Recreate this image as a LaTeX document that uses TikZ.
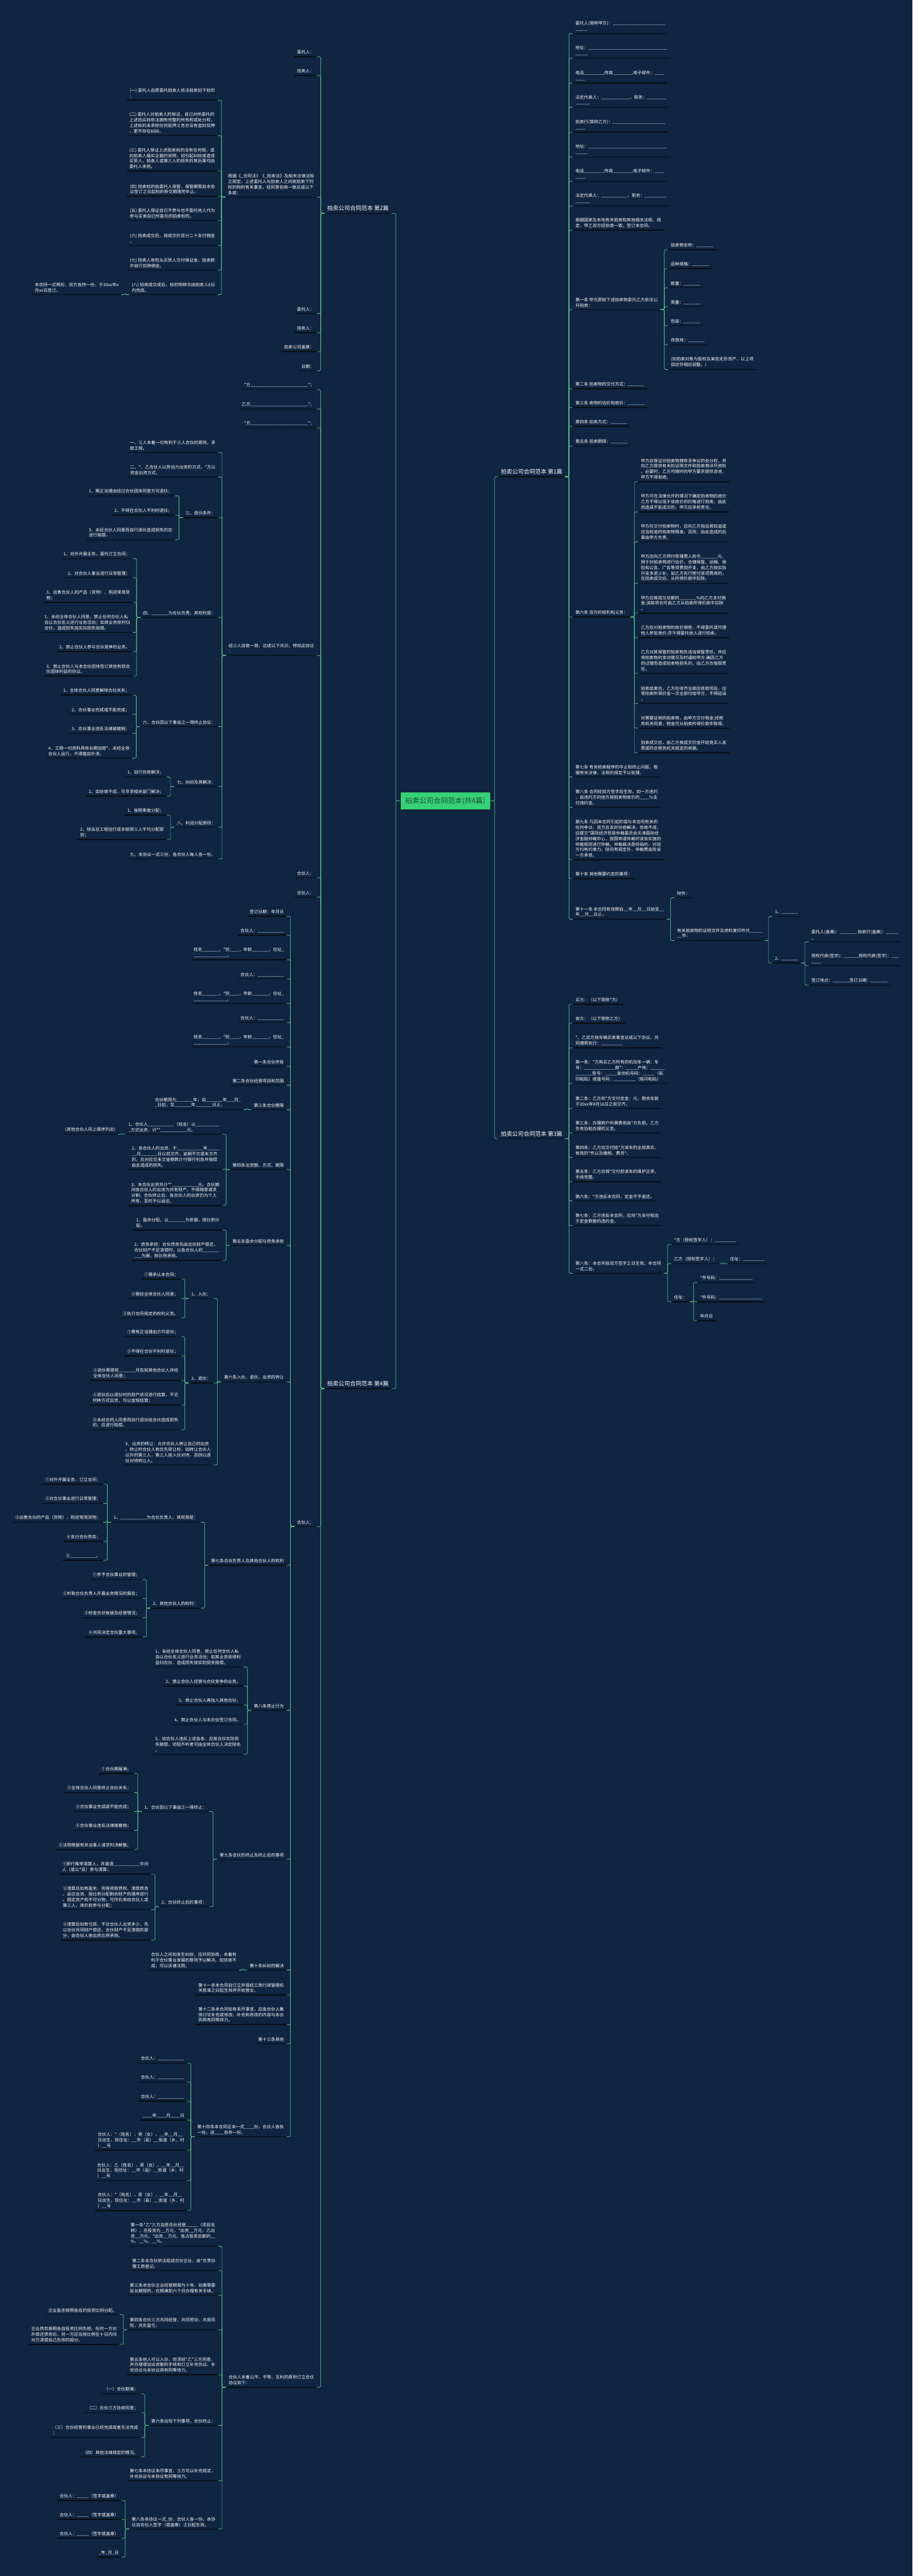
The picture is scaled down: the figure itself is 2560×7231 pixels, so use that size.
\documentclass[tikz,border=0pt]{standalone}
\usepackage{fontspec}
\setmainfont{Noto Sans CJK SC}

\definecolor{bgnavy}{HTML}{0F2540}
\definecolor{linkgreen}{HTML}{5CC495}
\definecolor{ulinedark}{HTML}{070D13}
\definecolor{rootgreen}{HTML}{35D078}
\definecolor{rootedge}{HTML}{1B2B22}
\definecolor{roottext}{HTML}{1C4A2C}

% a blank of #1 underscores
\newcommand\bk[1]{\foreach\bkn in {1,...,#1}{\_}}

\tikzset{
  leaf/.style={text=white, font=\fontsize{6}{7.8}\selectfont, align=left,
    inner xsep=3.5pt, inner ysep=3pt,
    append after command={(\tikzlastnode.south west) edge[uline] (\tikzlastnode.south east)}},
  leftleaf/.style={leaf, anchor=south east},
  rightleaf/.style={leaf, anchor=south west},
  chapter/.style={leaf, font=\fontsize{8}{10}\selectfont},
  rootbox/.style={fill=rootgreen, draw=rootedge, line width=0.6pt, text=roottext,
    font=\fontsize{10}{12}\selectfont, minimum width=126pt, minimum height=24pt, inner sep=0pt},
  link/.style={draw=linkgreen, line width=0.6pt, rounded corners=1.5pt},
  uline/.style={draw=ulinedark, line width=1.2pt}
}

\begin{document}
\begin{tikzpicture}[x=0.5pt,y=-0.5pt]
	\useasboundingbox (0,0) rectangle (2560,7231);
	\fill[bgnavy] (0,0) rectangle (2560,7231);

	% centre
	\node[rootbox] (root) at (1249,2248) {拍卖公司合同范本(共4篇)};

	% the four chapters
	\node[chapter, anchor=south east] (B) at (1098,599) {拍卖公司合同范本 第2篇};
	\node[chapter, anchor=south east] (D) at (1098,3898) {拍卖公司合同范本 第4篇};
	\node[chapter, anchor=south west] (A) at (1398,1338) {拍卖公司合同范本 第1篇};
	\node[chapter, anchor=south west] (C) at (1398,3196) {拍卖公司合同范本 第3篇};
	\foreach \c in {B,D} \draw[link] (root.west) -- ++(-12,0) |- (\c.south east);
	\foreach \c in {A,C} \draw[link] (root.east) -- ++(12,0) |- (\c.south west);

	% ---------------- chapter 2 (left, top)
	\coordinate (B-t) at ([xshift=-11pt]B.south west);
	\node[leftleaf] (B-1) at (B-t |- 0,159) {委托人：};
	\node[leftleaf] (B-2) at (B-t |- 0,212) {拍卖人：};
	\node[leftleaf] (B-3) at (B-t |- 0,553) {根据《\_合同法》《\_拍卖法》及相关法律法规\\之规定，上述委托人与拍卖人之间就拍卖下列\\标的物的有关事宜，经同意协商一致达成以下\\条款：};
	\node[leftleaf] (B-4) at (B-t |- 0,880) {委托人：};
	\node[leftleaf] (B-5) at (B-t |- 0,934) {拍卖人：};
	\node[leftleaf] (B-6) at (B-t |- 0,987) {拍卖公司盖章：};
	\node[leftleaf] (B-7) at (B-t |- 0,1041) {日期：};
	\foreach \i in {1,...,7} \draw[link] (B.south west) -- ++(-11,0) |- (B-\i.south east);

	\coordinate (B-3-t) at ([xshift=-11pt]B-3.south west);
	\node[leftleaf] (B-3-1) at (B-3-t |- 0,281) {(一) 委托人自愿委托拍卖人依法拍卖如下标的\\：};
	\node[leftleaf] (B-3-2) at (B-3-t |- 0,381) {(二) 委托人对拍卖人的保证，自己对所委托的\\上述拍买标依法拥有完整的所有权或处分权，\\上述标的未承担任何抵押义务亦没有查封扣押\\，更不存在纠纷。};
	\node[leftleaf] (B-3-3) at (B-3-t |- 0,480) {(三) 委托人保证上述拍卖标的没有任何瑕，或\\向拍卖人据实全面的说明，如引起纠纷或造成\\买受人，拍卖人或第三人的损失的其后果均由\\委托人承担。};
	\node[leftleaf] (B-3-4) at (B-3-t |- 0,551) {(四) 拍卖标的由委托人保管，保管期限自本协\\议签订之日起标的移交期限完毕止。};
	\node[leftleaf] (B-3-5) at (B-3-t |- 0,619) {(五) 委托人保证自已不参与也不委托他人代为\\参与买卖自已所委托的拍卖标的。};
	\node[leftleaf] (B-3-6) at (B-3-t |- 0,689) {(六) 拍卖成交后，按成交价百分二十支付佣金\\。};
	\node[leftleaf] (B-3-7) at (B-3-t |- 0,758) {(七) 拍卖人有权从买受人交付保证金，拍卖款\\中自行扣除佣金。};
	\node[leftleaf] (B-3-8) at (B-3-t |- 0,827) {(八) 拍卖成交成后，标的物移交由拍卖人6日\\内完成。};
	\foreach \i in {1,...,8} \draw[link] (B-3.south west) -- ++(-11,0) |- (B-3-\i.south east);
	\coordinate (B-3-8-t) at ([xshift=-11pt]B-3-8.south west);
	\node[leftleaf] (B-3-8-1) at (B-3-8-t |- 0,827) {本合同一式两份，双方各持一份，于20xx年x\\月xx日签订。};
	\draw[link] (B-3-8.south west) -- ++(-11,0) |- (B-3-8-1.south east);

	% ---------------- chapter 4 (left, bottom)
	\coordinate (D-t) at ([xshift=-11pt]D.south west);
	\node[leftleaf] (D-1) at (D-t |- 0,1094) {*方\bk{24}*；};
	\node[leftleaf] (D-2) at (D-t |- 0,1148) {乙方\bk{24}*；};
	\node[leftleaf] (D-3) at (D-t |- 0,1201) {*方\bk{24}*；};
	\node[leftleaf] (D-4) at (D-t |- 0,1840) {经三人协商一致，达成以下共识，特拟此协议\\：};
	\node[leftleaf] (D-5) at (D-t |- 0,2464) {合伙人：};
	\node[leftleaf] (D-6) at (D-t |- 0,2518) {合伙人：};
	\node[leftleaf] (D-7) at (D-t |- 0,4285) {合伙人：};
	\node[leftleaf] (D-8) at (D-t |- 0,6701) {合伙人本着公平、平等、互利的原则订立合伙\\协议如下：};
	\foreach \i in {1,...,8} \draw[link] (D.south west) -- ++(-11,0) |- (D-\i.south east);

	% first agreement
	\coordinate (D-4-t) at ([xshift=-11pt]D-4.south west);
	\node[leftleaf] (D-4-1) at (D-4-t |- 0,1270) {一、三人本着一切有利于三人合伙的原则，承\\接工程。};
	\node[leftleaf] (D-4-2) at (D-4-t |- 0,1339) {二、*、乙合伙人以劳动力出资的方式，*方以\\资金出资方式。};
	\node[leftleaf] (D-4-3) at (D-4-t |- 0,1453) {三、退伙条件：};
	\node[leftleaf] (D-4-4) at (D-4-t |- 0,1733) {四、\bk{7}为合伙负责。其权利是：};
	\node[leftleaf] (D-4-5) at (D-4-t |- 0,2040) {六、合伙因以下事由之一得终止协议：};
	\node[leftleaf] (D-4-6) at (D-4-t |- 0,2208) {七、纠纷及其解决：};
	\node[leftleaf] (D-4-7) at (D-4-t |- 0,2322) {八、利润分配原则：};
	\node[leftleaf] (D-4-8) at (D-4-t |- 0,2411) {九、本协议一式三份，各合伙人每人各一份。};
	\foreach \i in {1,...,8} \draw[link] (D-4.south west) -- ++(-11,0) |- (D-4-\i.south east);

	\coordinate (D-4-3-t) at ([xshift=-11pt]D-4-3.south west);
	\node[leftleaf] (D-4-3-1) at (D-4-3-t |- 0,1392) {1、需正当理由经过合伙团体同意方可退伙；};
	\node[leftleaf] (D-4-3-2) at (D-4-3-t |- 0,1446) {2、不得在合伙人不利时退伙；};
	\node[leftleaf] (D-4-3-3) at (D-4-3-t |- 0,1515) {3、未经合伙人同意而自行退伙造成损失的应\\进行赔偿。};
	\foreach \i in {1,...,3} \draw[link] (D-4-3.south west) -- ++(-11,0) |- (D-4-3-\i.south east);

	\coordinate (D-4-4-t) at ([xshift=-11pt]D-4-4.south west);
	\node[leftleaf] (D-4-4-1) at (D-4-4-t |- 0,1568) {1、对外开展业务，委托订立合同；};
	\node[leftleaf] (D-4-4-2) at (D-4-4-t |- 0,1622) {2、对合伙人事业进行日常管理；};
	\node[leftleaf] (D-4-4-3) at (D-4-4-t |- 0,1691) {3、出售合伙人的产品（货物）、购进常用货\\物；};
	\node[leftleaf] (D-4-4-4) at (D-4-4-t |- 0,1775) {1、未经全体合伙人同意，禁止任何合伙人私\\自以合伙名义进行业务活动；如其业务获利归\\合伙，造成损失按实际损失赔偿。};
	\node[leftleaf] (D-4-4-5) at (D-4-4-t |- 0,1829) {2、禁止合伙人参与合伙竞争的业务。};
	\node[leftleaf] (D-4-4-6) at (D-4-4-t |- 0,1898) {3、禁止合伙人与本合伙团体签订其他有损合\\伙团体利益的协议。};
	\foreach \i in {1,...,6} \draw[link] (D-4-4.south west) -- ++(-11,0) |- (D-4-4-\i.south east);

	\coordinate (D-4-5-t) at ([xshift=-11pt]D-4-5.south west);
	\node[leftleaf] (D-4-5-1) at (D-4-5-t |- 0,1951) {1、全体合伙人同意解除合伙关系；};
	\node[leftleaf] (D-4-5-2) at (D-4-5-t |- 0,2005) {2、合伙事业完成或不能完成；};
	\node[leftleaf] (D-4-5-3) at (D-4-5-t |- 0,2059) {3、合伙事业违反法律被撤销；};
	\node[leftleaf] (D-4-5-4) at (D-4-5-t |- 0,2128) {4、工程一切资料具有长期加密*，未经全体\\合伙人运行，不得擅自外泄。};
	\foreach \i in {1,...,4} \draw[link] (D-4-5.south west) -- ++(-11,0) |- (D-4-5-\i.south east);

	\coordinate (D-4-6-t) at ([xshift=-11pt]D-4-6.south west);
	\node[leftleaf] (D-4-6-1) at (D-4-6-t |- 0,2181) {1、自行协商解决；};
	\node[leftleaf] (D-4-6-2) at (D-4-6-t |- 0,2235) {2、如协商不成，可寻求相关部门解决；};
	\foreach \i in {1,2} \draw[link] (D-4-6.south west) -- ++(-11,0) |- (D-4-6-\i.south east);

	\coordinate (D-4-7-t) at ([xshift=-11pt]D-4-7.south west);
	\node[leftleaf] (D-4-7-1) at (D-4-7-t |- 0,2288) {1、按照季度分配；};
	\node[leftleaf] (D-4-7-2) at (D-4-7-t |- 0,2357) {2、除去总工程运行成本按照三人平均分配原\\则；};
	\foreach \i in {1,2} \draw[link] (D-4-7.south west) -- ++(-11,0) |- (D-4-7-\i.south east);

	% second agreement
	\coordinate (D-7-t) at ([xshift=-11pt]D-7.south west);
	\node[leftleaf] (D-7-1) at (D-7-t |- 0,2572) {签订日期：年月日};
	\node[leftleaf] (D-7-2) at (D-7-t |- 0,2625) {合伙人：\bk{11}};
	\node[leftleaf] (D-7-3) at (D-7-t |- 0,2694) {姓名\bk{7}，*别\bk{4}，年龄\bk{7}，住址\_\\\bk{14}。};
	\node[leftleaf] (D-7-4) at (D-7-t |- 0,2748) {合伙人：\bk{11}};
	\node[leftleaf] (D-7-5) at (D-7-t |- 0,2817) {姓名\bk{7}，*别\bk{4}，年龄\bk{7}，住址\_\\\bk{14}。};
	\node[leftleaf] (D-7-6) at (D-7-t |- 0,2870) {合伙人：\bk{11}};
	\node[leftleaf] (D-7-7) at (D-7-t |- 0,2939) {姓名\bk{7}，*别\bk{4}，年龄\bk{7}，住址\_\\\bk{14}。};
	\node[leftleaf] (D-7-8) at (D-7-t |- 0,2993) {第一条合伙宗旨};
	\node[leftleaf] (D-7-9) at (D-7-t |- 0,3046) {第二条合伙经营项目和范围};
	\node[leftleaf] (D-7-10) at (D-7-t |- 0,3115) {第三条合伙期限};
	\node[leftleaf] (D-7-11) at (D-7-t |- 0,3283) {第四条出资额、方式、期限};
	\node[leftleaf] (D-7-12) at (D-7-t |- 0,3496) {第五条盈余分配与债务承担};
	\node[leftleaf] (D-7-13) at (D-7-t |- 0,3879) {第六条入伙、退伙，出资的转让};
	\node[leftleaf] (D-7-14) at (D-7-t |- 0,4394) {第七条合伙负责人及其他合伙人的权利};
	\node[leftleaf] (D-7-15) at (D-7-t |- 0,4801) {第八条禁止行为};
	\node[leftleaf] (D-7-16) at (D-7-t |- 0,5219) {第九条合伙的终止及终止后的事项};
	\node[leftleaf] (D-7-17) at (D-7-t |- 0,5530) {第十条纠纷的解决};
	\node[leftleaf] (D-7-18) at (D-7-t |- 0,5600) {第十一条本合同自订立并报经工商行政管理机\\关批准之日起生效并开始营业。};
	\node[leftleaf] (D-7-19) at (D-7-t |- 0,5683) {第十二条本合同如有未尽事宜，应由合伙人集\\体讨论补充或修改。补充和修改的内容与本合\\同具有同等效力。};
	\node[leftleaf] (D-7-20) at (D-7-t |- 0,5737) {第十三条其他};
	\node[leftleaf] (D-7-21) at (D-7-t |- 0,5998) {第十四条本合同正本一式\bk{4}份，合伙人各执\\一份，送\bk{4}各存一份。};
	\foreach \i in {1,...,21} \draw[link] (D-7.south west) -- ++(-11,0) |- (D-7-\i.south east);

	\coordinate (D-7-10-t) at ([xshift=-11pt]D-7-10.south west);
	\node[leftleaf] (D-7-10-1) at (D-7-10-t |- 0,3115) {合伙期限为\bk{7}年，自\bk{7}年\bk{3}月\_\\\_日起，至\bk{7}年\bk{7}日止。};
	\draw[link] (D-7-10.south west) -- ++(-11,0) |- (D-7-10-1.south east);

	\coordinate (D-7-11-t) at ([xshift=-11pt]D-7-11.south west);
	\node[leftleaf] (D-7-11-1) at (D-7-11-t |- 0,3184) {1、合伙人\bk{11}（姓名）以\bk{10}\\\_方式出资，计**\bk{11}元。};
	\node[leftleaf] (D-7-11-2) at (D-7-11-t |- 0,3283) {2、各合伙人的出资，于\bk{11}年\bk{5}\\\_\_月\bk{7}日以前交齐，逾期不交或未交齐\\的，应对应交未交金额数计付银行利息并赔偿\\由此造成的损失。};
	\node[leftleaf] (D-7-11-3) at (D-7-11-t |- 0,3384) {3、本合伙出资共计**\bk{11}元。合伙期\\间各合伙人的出资为共有财产，不得随意请求\\分割，合伙终止后，各合伙人的出资仍为个人\\所有，至时予以返还。};
	\foreach \i in {1,...,3} \draw[link] (D-7-11.south west) -- ++(-11,0) |- (D-7-11-\i.south east);
	\coordinate (D-7-11-1-t) at ([xshift=-11pt]D-7-11-1.south west);
	\node[leftleaf] (D-7-11-1-1) at (D-7-11-1-t |- 0,3184) {(其他合伙人同上顺序列出)};
	\draw[link] (D-7-11-1.south west) -- ++(-11,0) |- (D-7-11-1-1.south east);

	\coordinate (D-7-12-t) at ([xshift=-11pt]D-7-12.south west);
	\node[leftleaf] (D-7-12-1) at (D-7-12-t |- 0,3453) {1、盈余分配，以\bk{7}为依据，按比例分\\配。};
	\node[leftleaf] (D-7-12-2) at (D-7-12-t |- 0,3538) {2、债务承担：合伙债务先由合伙财产偿还，\\合伙财产不足清偿时，以各合伙人的\bk{7}\\\bk{3}为据，按比例承担。};
	\foreach \i in {1,2} \draw[link] (D-7-12.south west) -- ++(-11,0) |- (D-7-12-\i.south east);

	\coordinate (D-7-13-t) at ([xshift=-11pt]D-7-13.south west);
	\node[leftleaf] (D-7-13-1) at (D-7-13-t |- 0,3645) {1、入伙：};
	\node[leftleaf] (D-7-13-2) at (D-7-13-t |- 0,3882) {2、退伙：};
	\node[leftleaf] (D-7-13-3) at (D-7-13-t |- 0,4112) {3、出资的转让：允许合伙人转让自己的出资\\。转让时合伙人有优先受让权，如转让合伙人\\以外的第三人，第三人按入伙对待，否则以退\\伙对待转让人。};
	\foreach \i in {1,...,3} \draw[link] (D-7-13.south west) -- ++(-11,0) |- (D-7-13-\i.south east);

	\coordinate (D-7-13-1-t) at ([xshift=-11pt]D-7-13-1.south west);
	\node[leftleaf] (D-7-13-1-1) at (D-7-13-1-t |- 0,3591) {①需承认本合同；};
	\node[leftleaf] (D-7-13-1-2) at (D-7-13-1-t |- 0,3645) {②需经全体合伙人同意；};
	\node[leftleaf] (D-7-13-1-3) at (D-7-13-1-t |- 0,3699) {③执行合同规定的权利义务。};
	\foreach \i in {1,...,3} \draw[link] (D-7-13-1.south west) -- ++(-11,0) |- (D-7-13-1-\i.south east);

	\coordinate (D-7-13-2-t) at ([xshift=-11pt]D-7-13-2.south west);
	\node[leftleaf] (D-7-13-2-1) at (D-7-13-2-t |- 0,3752) {①需有正当理由方可退伙；};
	\node[leftleaf] (D-7-13-2-2) at (D-7-13-2-t |- 0,3806) {②不得在合伙不利时退伙；};
	\node[leftleaf] (D-7-13-2-3) at (D-7-13-2-t |- 0,3875) {③退伙需提前\bk{7}月告知其他合伙人并经\\全体合伙人同意；};
	\node[leftleaf] (D-7-13-2-4) at (D-7-13-2-t |- 0,3944) {④退伙后以退伙时的财产状况进行结算，不论\\何种方式出资，均以金钱结算；};
	\node[leftleaf] (D-7-13-2-5) at (D-7-13-2-t |- 0,4013) {⑤未经合同人同意而自行退伙给合伙造成损失\\的，应进行赔偿。};
	\foreach \i in {1,...,5} \draw[link] (D-7-13-2.south west) -- ++(-11,0) |- (D-7-13-2-\i.south east);

	\coordinate (D-7-14-t) at ([xshift=-11pt]D-7-14.south west);
	\node[leftleaf] (D-7-14-1) at (D-7-14-t |- 0,4273) {1、\bk{11}为合伙负责人。其权限是：};
	\node[leftleaf] (D-7-14-2) at (D-7-14-t |- 0,4514) {2、其他合伙人的权利：};
	\foreach \i in {1,2} \draw[link] (D-7-14.south west) -- ++(-11,0) |- (D-7-14-\i.south east);

	\coordinate (D-7-14-1-t) at ([xshift=-11pt]D-7-14-1.south west);
	\node[leftleaf] (D-7-14-1-1) at (D-7-14-1-t |- 0,4166) {①对外开展业务，订立合同；};
	\node[leftleaf] (D-7-14-1-2) at (D-7-14-1-t |- 0,4220) {②对合伙事业进行日常管理；};
	\node[leftleaf] (D-7-14-1-3) at (D-7-14-1-t |- 0,4273) {③出售合伙的产品（货物），购进常用货物；};
	\node[leftleaf] (D-7-14-1-4) at (D-7-14-1-t |- 0,4327) {④支付合伙债务；};
	\node[leftleaf] (D-7-14-1-5) at (D-7-14-1-t |- 0,4380) {⑤\bk{11}。};
	\foreach \i in {1,...,5} \draw[link] (D-7-14-1.south west) -- ++(-11,0) |- (D-7-14-1-\i.south east);

	\coordinate (D-7-14-2-t) at ([xshift=-11pt]D-7-14-2.south west);
	\node[leftleaf] (D-7-14-2-1) at (D-7-14-2-t |- 0,4434) {①参予合伙事业的管理；};
	\node[leftleaf] (D-7-14-2-2) at (D-7-14-2-t |- 0,4487) {②听取合伙负责人开展业务情况的报告；};
	\node[leftleaf] (D-7-14-2-3) at (D-7-14-2-t |- 0,4541) {③检查合伙帐册及经营情况；};
	\node[leftleaf] (D-7-14-2-4) at (D-7-14-2-t |- 0,4595) {④共同决定合伙重大事项。};
	\foreach \i in {1,...,4} \draw[link] (D-7-14-2.south west) -- ++(-11,0) |- (D-7-14-2-\i.south east);

	\coordinate (D-7-15-t) at ([xshift=-11pt]D-7-15.south west);
	\node[leftleaf] (D-7-15-1) at (D-7-15-t |- 0,4679) {1、未经全体合伙人同意，禁止任何合伙人私\\自以合伙名义进行业务活动；如其业务获得利\\益归合伙，造成损失按实际损失赔偿。};
	\node[leftleaf] (D-7-15-2) at (D-7-15-t |- 0,4733) {2、禁止合伙人经营与合伙竞争的业务。};
	\node[leftleaf] (D-7-15-3) at (D-7-15-t |- 0,4786) {3、禁止合伙人再加入其他合伙。};
	\node[leftleaf] (D-7-15-4) at (D-7-15-t |- 0,4840) {4、禁止合伙人与本合伙签订合同。};
	\node[leftleaf] (D-7-15-5) at (D-7-15-t |- 0,4924) {5、如合伙人违反上述各条，应按合伙实际损\\失赔偿。劝阻不听者可由全体合伙人决定除名\\。};
	\foreach \i in {1,...,5} \draw[link] (D-7-15.south west) -- ++(-11,0) |- (D-7-15-\i.south east);

	\coordinate (D-7-16-t) at ([xshift=-11pt]D-7-16.south west);
	\node[leftleaf] (D-7-16-1) at (D-7-16-t |- 0,5085) {1、合伙因以下事由之一得终止：};
	\node[leftleaf] (D-7-16-2) at (D-7-16-t |- 0,5352) {2、合伙终止后的事项：};
	\foreach \i in {1,2} \draw[link] (D-7-16.south west) -- ++(-11,0) |- (D-7-16-\i.south east);

	\coordinate (D-7-16-1-t) at ([xshift=-11pt]D-7-16-1.south west);
	\node[leftleaf] (D-7-16-1-1) at (D-7-16-1-t |- 0,4978) {①合伙期届满；};
	\node[leftleaf] (D-7-16-1-2) at (D-7-16-1-t |- 0,5032) {②全体合伙人同意终止合伙关系；};
	\node[leftleaf] (D-7-16-1-3) at (D-7-16-1-t |- 0,5085) {③合伙事业完成或不能完成；};
	\node[leftleaf] (D-7-16-1-4) at (D-7-16-1-t |- 0,5138) {④合伙事业违反法律被撤销；};
	\node[leftleaf] (D-7-16-1-5) at (D-7-16-1-t |- 0,5192) {⑤法院根据有关当事人请求判决解散。};
	\foreach \i in {1,...,5} \draw[link] (D-7-16-1.south west) -- ++(-11,0) |- (D-7-16-1-\i.south east);

	\coordinate (D-7-16-2-t) at ([xshift=-11pt]D-7-16-2.south west);
	\node[leftleaf] (D-7-16-2-1) at (D-7-16-2-t |- 0,5261) {①即行推举清算人，并邀请\bk{11}中间\\人（或公*员）参与清算；};
	\node[leftleaf] (D-7-16-2-2) at (D-7-16-2-t |- 0,5361) {②清算后如有盈余，则按收取债权、清偿债务\\、返还出资、按比例分配剩余财产的顺序进行\\。固定资产和不可分物，可作价卖给合伙人或\\第三人，其价款参与分配；};
	\node[leftleaf] (D-7-16-2-3) at (D-7-16-2-t |- 0,5446) {③清算后如有亏损，不论合伙人出资多少，先\\以合伙共同财产偿还，合伙财产不足清偿的部\\分，由合伙人按出资比例承担。};
	\foreach \i in {1,...,3} \draw[link] (D-7-16-2.south west) -- ++(-11,0) |- (D-7-16-2-\i.south east);

	\coordinate (D-7-17-t) at ([xshift=-11pt]D-7-17.south west);
	\node[leftleaf] (D-7-17-1) at (D-7-17-t |- 0,5530) {合伙人之间如发生纠纷，应共同协商，本着有\\利于合伙事业发展的原则予以解决。如协商不\\成，可以诉诸法院。};
	\draw[link] (D-7-17.south west) -- ++(-11,0) |- (D-7-17-1.south east);

	\coordinate (D-7-21-t) at ([xshift=-11pt]D-7-21.south west);
	\node[leftleaf] (D-7-21-1) at (D-7-21-t |- 0,5791) {合伙人：\bk{11}};
	\node[leftleaf] (D-7-21-2) at (D-7-21-t |- 0,5844) {合伙人：\bk{11}};
	\node[leftleaf] (D-7-21-3) at (D-7-21-t |- 0,5898) {合伙人：\bk{11}};
	\node[leftleaf] (D-7-21-4) at (D-7-21-t |- 0,5951) {\bk{4}年\bk{4}月\bk{4}日};
	\node[leftleaf] (D-7-21-5) at (D-7-21-t |- 0,6036) {合伙人：*（姓名），男（女），\_\_年\_\_月\_\_\\日出生，现住址：\_\_市（县）\_\_街道（乡、村\\）\_\_号};
	\node[leftleaf] (D-7-21-6) at (D-7-21-t |- 0,6121) {合伙人：乙（姓名），男（女），\_\_年\_\_月\_\_\\日出生，现住址：\_\_市（县）\_\_街道（乡、村\\）\_\_号};
	\node[leftleaf] (D-7-21-7) at (D-7-21-t |- 0,6205) {合伙人：*（姓名），男（女），\_\_年\_\_月\_\_\\日出生，现住址：\_\_市（县）\_\_街道（乡、村\\）\_\_号};
	\foreach \i in {1,...,7} \draw[link] (D-7-21.south west) -- ++(-11,0) |- (D-7-21-\i.south east);

	% third agreement
	\coordinate (D-8-t) at ([xshift=-11pt]D-8.south west);
	\node[leftleaf] (D-8-1) at (D-8-t |- 0,6305) {第一条*乙*三方自愿合伙经营\bk{5}（项目名\\称），总投资为\_\_万元，*出资\_\_万元，乙出\\资\_\_万元，*出资\_\_万元，各占投资总额的\_\_\\\%、\_\_\%、\_\_\%。};
	\node[leftleaf] (D-8-2) at (D-8-t |- 0,6374) {第二条本合伙依法组成合伙企业，由*负责办\\理工商登记。};
	\node[leftleaf] (D-8-3) at (D-8-t |- 0,6443) {第三条本合伙企业经营期限为十年。如果需要\\延长期限的，在期满前六个月办理有关手续。};
	\node[leftleaf] (D-8-4) at (D-8-t |- 0,6540) {第四条合伙三方共同经营、共同劳动，共担风\\险，共负盈亏。};
	\node[leftleaf] (D-8-5) at (D-8-t |- 0,6666) {第五条他人可以入伙，但须经*乙*三方同意，\\并办理增加出资额的手续和订立补充协议。补\\充协议与本协议具有同等效力。};
	\node[leftleaf] (D-8-6) at (D-8-t |- 0,6808) {第六条出现下列事项，合伙终止：};
	\node[leftleaf] (D-8-7) at (D-8-t |- 0,6964) {第七条本协议未尽事宜，三方可以补充规定，\\补充协议与本协议有同等效力。};
	\node[leftleaf] (D-8-8) at (D-8-t |- 0,7099) {第八条本协议一式\_份，合伙人各一份。本协\\议自合伙人签字（或盖章）之日起生效。};
	\foreach \i in {1,...,8} \draw[link] (D-8.south west) -- ++(-11,0) |- (D-8-\i.south east);

	\coordinate (D-8-4-t) at ([xshift=-11pt]D-8-4.south west);
	\node[leftleaf] (D-8-4-1) at (D-8-4-t |- 0,6497) {企业盈余按照各自的投资比例分配。};
	\node[leftleaf] (D-8-4-2) at (D-8-4-t |- 0,6581) {企业债务按照各自投资比例负担。任何一方对\\外偿还债务后，另一方应当按比例在十日内向\\对方清偿自己负担的部分。};
	\foreach \i in {1,2} \draw[link] (D-8-4.south west) -- ++(-11,0) |- (D-8-4-\i.south east);

	\coordinate (D-8-6-t) at ([xshift=-11pt]D-8-6.south west);
	\node[leftleaf] (D-8-6-1) at (D-8-6-t |- 0,6720) {（一）合伙期满；};
	\node[leftleaf] (D-8-6-2) at (D-8-6-t |- 0,6773) {（二）合伙三方协商同意；};
	\node[leftleaf] (D-8-6-3) at (D-8-6-t |- 0,6842) {（三）合伙经营的事业已经完成或者无法完成\\；};
	\node[leftleaf] (D-8-6-4) at (D-8-6-t |- 0,6896) {（四）其他法律规定的情况。};
	\foreach \i in {1,...,4} \draw[link] (D-8-6.south west) -- ++(-11,0) |- (D-8-6-\i.south east);

	\coordinate (D-8-8-t) at ([xshift=-11pt]D-8-8.south west);
	\node[leftleaf] (D-8-8-1) at (D-8-8-t |- 0,7019) {合伙人：\bk{5}（签字或盖章）};
	\node[leftleaf] (D-8-8-2) at (D-8-8-t |- 0,7072) {合伙人：\bk{5}（签字或盖章）};
	\node[leftleaf] (D-8-8-3) at (D-8-8-t |- 0,7125) {合伙人：\bk{5}（签字或盖章）};
	\node[leftleaf] (D-8-8-4) at (D-8-8-t |- 0,7178) {\_年\_月\_日};
	\foreach \i in {1,...,4} \draw[link] (D-8-8.south west) -- ++(-11,0) |- (D-8-8-\i.south east);

	% ---------------- chapter 1 (right, top)
	\coordinate (A-t) at ([xshift=11pt]A.south east);
	\node[rightleaf] (A-1) at (A-t |- 0,94) {委托人(简称甲方)：\bk{22}\\\bk{5}};
	\node[rightleaf] (A-2) at (A-t |- 0,163) {地址：\bk{33}\\\bk{5}};
	\node[rightleaf] (A-3) at (A-t |- 0,233) {电话\bk{8};传真\bk{8};电子邮件：\bk{4}\\\bk{4}};
	\node[rightleaf] (A-4) at (A-t |- 0,301) {法定代表人：\bk{12}，职务：\bk{8}\\\bk{6}};
	\node[rightleaf] (A-5) at (A-t |- 0,371) {拍卖行(简称乙方)：\bk{22}\\\bk{4}};
	\node[rightleaf] (A-6) at (A-t |- 0,440) {地址：\bk{33}\\\bk{5}};
	\node[rightleaf] (A-7) at (A-t |- 0,509) {电话\bk{8};传真\bk{8};电子邮件：\bk{4}\\\bk{4}};
	\node[rightleaf] (A-8) at (A-t |- 0,578) {法定代表人：\bk{11}，职务：\bk{9}\\\bk{6}};
	\node[rightleaf] (A-9) at (A-t |- 0,646) {根据国家及本地有关拍卖和其他相关法规、规\\定，甲乙双方经协商一致，签订本合同。};
	\node[rightleaf] (A-10) at (A-t |- 0,869) {第一条 甲方愿就下述拍卖物委托乙方依法公\\开拍卖：};
	\node[rightleaf] (A-11) at (A-t |- 0,1091) {第二条 拍卖物的交付方式：\bk{7}};
	\node[rightleaf] (A-12) at (A-t |- 0,1144) {第三条 卖物的估价和底价：\bk{7}};
	\node[rightleaf] (A-13) at (A-t |- 0,1197) {第四条 拍卖方式：\bk{7}};
	\node[rightleaf] (A-14) at (A-t |- 0,1252) {第五条 拍卖期限：\bk{7}};
	\node[rightleaf] (A-15) at (A-t |- 0,1732) {第六条 双方的权利和义务：};
	\node[rightleaf] (A-16) at (A-t |- 0,2181) {第七条 有关拍卖程序的中止和终止问题，根\\据有关法律、法规的规定予以处理。};
	\node[rightleaf] (A-17) at (A-t |- 0,2266) {第八条 合同经双方签字后生效。如一方违约\\，由违约方向他方按拍卖物底价的\bk{4}\%支\\付违约金。};
	\node[rightleaf] (A-18) at (A-t |- 0,2413) {第九条 凡因本合同引起的或与本合同有关的\\任何争议，双方应友好协商解决。协商不成，\\应提交*国际经济贸易仲裁委员会天津国际经\\济金融仲裁中心，按照申请仲裁时该会实施的\\仲裁规则进行仲裁。仲裁裁决是终局的，对双\\方均有约束力。除另有规定外，仲裁费由败诉\\一方承担。};
	\node[rightleaf] (A-19) at (A-t |- 0,2466) {第十条 其他需要约定的事项：};
	\node[rightleaf] (A-20) at (A-t |- 0,2580) {第十一条 本合同有效期自\_\_年\_\_月\_\_日始至\_\_\\年\_\_月\_\_日止。};
	\foreach \i in {1,...,20} \draw[link] (A.south east) -- ++(11,0) |- (A-\i.south west);

	\coordinate (A-10-t) at ([xshift=11pt]A-10.south east);
	\node[rightleaf] (A-10-1) at (A-10-t |- 0,701) {拍卖物名称：\bk{7}};
	\node[rightleaf] (A-10-2) at (A-10-t |- 0,754) {品种规格：\bk{7}};
	\node[rightleaf] (A-10-3) at (A-10-t |- 0,808) {数量：\bk{7}};
	\node[rightleaf] (A-10-4) at (A-10-t |- 0,861) {质量：\bk{7}};
	\node[rightleaf] (A-10-5) at (A-10-t |- 0,914) {包装：\bk{7}};
	\node[rightleaf] (A-10-6) at (A-10-t |- 0,968) {存放地：\bk{7}};
	\node[rightleaf] (A-10-7) at (A-10-t |- 0,1037) {(如拍卖对象为股权及某些无形资产，以上项\\目应作相应调整。)};
	\foreach \i in {1,...,7} \draw[link] (A-10.south east) -- ++(11,0) |- (A-10-\i.south west);

	\coordinate (A-15-t) at ([xshift=11pt]A-15.south east);
	\node[rightleaf] (A-15-1) at (A-15-t |- 0,1352) {甲方应保证对拍卖物拥有无争议的处分权，并\\向乙方提供有关的证明文件和拍卖物详尽资料\\。必要时，乙方可随时向甲方要求提供咨询，\\甲方不得拒绝。};
	\node[rightleaf] (A-15-2) at (A-15-t |- 0,1437) {甲方可在法律允许的情况下确定拍卖物的底价\\乙方不得以低于该底价的价格进行拍卖，由此\\而造成不能成交的，甲方应承担责任。};
	\node[rightleaf] (A-15-3) at (A-15-t |- 0,1521) {甲方在交付拍卖物时，应向乙方指出其知道或\\应当知道的拍卖物瑕疵。否则，由此造成的后\\果由甲方负责。};
	\node[rightleaf] (A-15-4) at (A-15-t |- 0,1637) {甲方应向乙方预付受理费人民币\bk{7}元，\\用于对拍卖物进行估价，仓储保管、运输、保\\险和公告、广告等项费用开支，由乙方按实际\\开支多退少补。如乙方先行垫付该项费用的，\\在拍卖成交后，从所得价款中扣除。};
	\node[rightleaf] (A-15-5) at (A-15-t |- 0,1721) {甲方应按成交总额的\bk{7}\%向乙方支付佣\\金;该款项也可由乙方从拍卖所得价款中扣除\\。};
	\node[rightleaf] (A-15-6) at (A-15-t |- 0,1790) {乙方应对拍卖物的底价保密，不得委托或代理\\他人参加竞价;亦不得委托他人进行拍卖。};
	\node[rightleaf] (A-15-7) at (A-15-t |- 0,1890) {乙方对其保管的拍卖物负适当保管责任，并应\\将拍卖物的变动情况及时通知甲方;确因乙方\\的过错而造成拍卖物损失的，由乙方负赔偿责\\任。};
	\node[rightleaf] (A-15-8) at (A-15-t |- 0,1975) {拍卖结束后，乙方在收齐全部应收款项后，应\\将拍卖所得价金一次全部付给甲方，不得延误\\。};
	\node[rightleaf] (A-15-9) at (A-15-t |- 0,2044) {对需要征税的拍卖物，由甲方交付税金;经税\\务机关同意，税金可从拍卖所得价款中取得。};
	\node[rightleaf] (A-15-10) at (A-15-t |- 0,2113) {拍卖成交后，由乙方按成交价金开给竞买人发\\票或符合税务机关规定的收据。};
	\foreach \i in {1,...,10} \draw[link] (A-15.south east) -- ++(11,0) |- (A-15-\i.south west);

	\coordinate (A-20-t) at ([xshift=11pt]A-20.south east);
	\node[rightleaf] (A-20-1) at (A-20-t |- 0,2520) {附件：};
	\node[rightleaf] (A-20-2) at (A-20-t |- 0,2640) {有关拍卖物的证明文件及资料复印件共\bk{5}\\\_\_件：};
	\foreach \i in {1,2} \draw[link] (A-20.south east) -- ++(11,0) |- (A-20-\i.south west);
	\coordinate (A-20-2-t) at ([xshift=11pt]A-20-2.south east);
	\node[rightleaf] (A-20-2-1) at (A-20-2-t |- 0,2573) {1、\bk{7}};
	\node[rightleaf] (A-20-2-2) at (A-20-2-t |- 0,2703) {2、\bk{7}};
	\foreach \i in {1,2} \draw[link] (A-20-2.south east) -- ++(11,0) |- (A-20-2-\i.south west);
	\coordinate (A-20-2-2-t) at ([xshift=11pt]A-20-2-2.south east);
	\node[rightleaf] (A-20-2-2-1) at (A-20-2-2-t |- 0,2644) {委托人(盖章)：\bk{7} 拍卖行(盖章)：\bk{5}\\\_};
	\node[rightleaf] (A-20-2-2-2) at (A-20-2-2-t |- 0,2711) {授权代表(签字)：\bk{6}授权代表(签字)：\bk{3}\\\bk{4}};
	\node[rightleaf] (A-20-2-2-3) at (A-20-2-2-t |- 0,2765) {签订地点：\bk{7}签订日期：\bk{7}};
	\foreach \i in {1,...,3} \draw[link] (A-20-2-2.south east) -- ++(11,0) |- (A-20-2-2-\i.south west);

	% ---------------- chapter 3 (right, bottom)
	\coordinate (C-t) at ([xshift=11pt]C.south east);
	\node[rightleaf] (C-1) at (C-t |- 0,2819) {买方：（以下简称*方）};
	\node[rightleaf] (C-2) at (C-t |- 0,2872) {卖方：（以下简称乙方）};
	\node[rightleaf] (C-3) at (C-t |- 0,2941) {*、乙双方就车辆买卖事宜达成以下协议，共\\同遵照执行：\bk{9}};
	\node[rightleaf] (C-4) at (C-t |- 0,3041) {第一条：*方购买乙方所有的机动车一辆：车\\号：\bk{13}颜*：\bk{5}产地：\bk{6}\\\bk{7}型号：\bk{5}发动机号码：\bk{5}（拓\\印粘贴）底盘号码：\bk{9}（拓印粘贴）};
	\node[rightleaf] (C-5) at (C-t |- 0,3111) {第二条：乙方向*方交付定金：元，剩余车款\\于20xx年8月16日之前交齐。};
	\node[rightleaf] (C-6) at (C-t |- 0,3180) {第三条：办理转户所需费用由*方负担。乙方\\负有协助办理的义务。};
	\node[rightleaf] (C-7) at (C-t |- 0,3249) {第四条：乙方应交付给*方该车的全部真实、\\有效的*件以及缴税、费凭*。};
	\node[rightleaf] (C-8) at (C-t |- 0,3317) {第五条：乙方应保*交付前该车的维护正常，\\手续完整。};
	\node[rightleaf] (C-9) at (C-t |- 0,3371) {第六条：*方违反本合同，定金不予退还。};
	\node[rightleaf] (C-10) at (C-t |- 0,3440) {第七条：乙方违反本合同，应向*方支付相当\\于定金数额的违约金。};
	\node[rightleaf] (C-11) at (C-t |- 0,3574) {第八条：本合同自双方签字之日生效。本合同\\一式二份。};
	\foreach \i in {1,...,11} \draw[link] (C.south east) -- ++(11,0) |- (C-\i.south west);

	\coordinate (C-11-t) at ([xshift=11pt]C-11.south east);
	\node[rightleaf] (C-11-1) at (C-11-t |- 0,3493) {*方（授权签字人）：\bk{9}};
	\node[rightleaf] (C-11-2) at (C-11-t |- 0,3547) {乙方（授权签字人）：};
	\node[rightleaf] (C-11-3) at (C-11-t |- 0,3654) {住址：};
	\foreach \i in {1,...,3} \draw[link] (C-11.south east) -- ++(11,0) |- (C-11-\i.south west);
	\coordinate (C-11-2-t) at ([xshift=11pt]C-11-2.south east);
	\node[rightleaf] (C-11-2-1) at (C-11-2-t |- 0,3547) {住址：\bk{9}};
	\draw[link] (C-11-2.south east) -- ++(11,0) |- (C-11-2-1.south west);
	\coordinate (C-11-3-t) at ([xshift=11pt]C-11-3.south east);
	\node[rightleaf] (C-11-3-1) at (C-11-3-t |- 0,3600) {*件号码：\bk{14}};
	\node[rightleaf] (C-11-3-2) at (C-11-3-t |- 0,3654) {*件号码：\bk{18}};
	\node[rightleaf] (C-11-3-3) at (C-11-3-t |- 0,3707) {年月日};
	\foreach \i in {1,...,3} \draw[link] (C-11-3.south east) -- ++(11,0) |- (C-11-3-\i.south west);
\end{tikzpicture}
\end{document}
